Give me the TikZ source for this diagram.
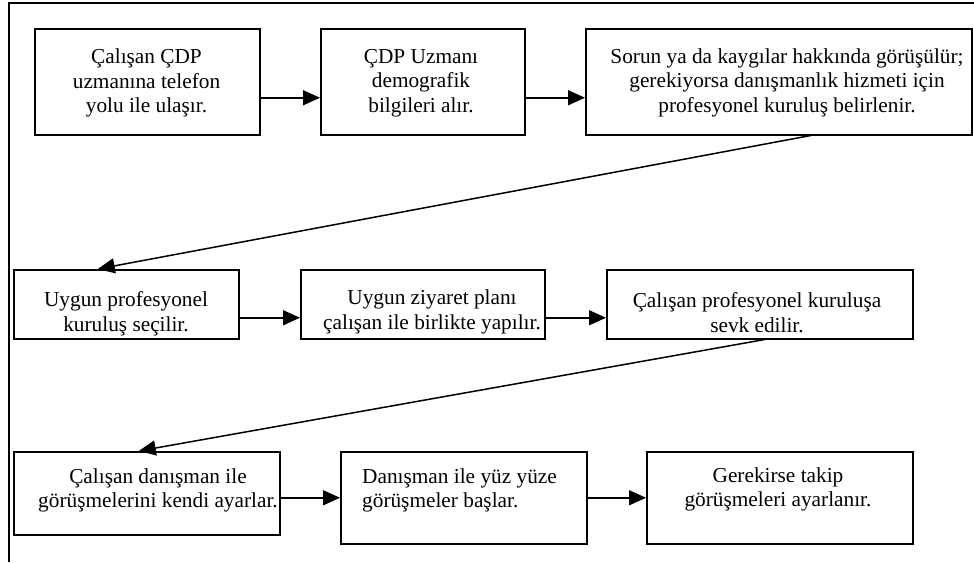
\documentclass[tikz,border=0pt]{standalone}
\usepackage{fontspec}
\setmainfont{Liberation Serif}
\newfontfamily\tnr{Liberation Serif}
\usetikzlibrary{arrows.meta}
\tikzset{
  box/.style={draw, line width=1.5pt, inner sep=0pt, anchor=north west},
  txt/.style={inner sep=0pt, anchor=north, align=center, font=\tnr\fontsize{21.3}{24.5}\selectfont},
  txtl/.style={txt, anchor=north west, align=left},
  arr/.style={line width=1.5pt, -{Triangle[length=17pt,width=15pt]}},
  frame/.style={line width=2pt}
}
\begin{document}
\begin{tikzpicture}[x=1pt,y=-1pt]
\useasboundingbox (0,0) rectangle (974,562);
% frame
\coordinate (fb) at (8.5,562);
\coordinate (fc) at (8.5,3.3);
\coordinate (fr) at (974,3.3);
\draw[frame] (fb) -- (fc) -- (fr);
% boxes
\node[box, minimum width=225pt, minimum height=106pt] (b1) at (34,28) {};
\node[box, minimum width=204pt, minimum height=106pt] (b2) at (320,28) {};
\node[box, minimum width=386pt, minimum height=106pt] (b3) at (585,28) {};
\node[box, minimum width=225pt, minimum height=69pt] (b4) at (13,269) {};
\node[box, minimum width=244pt, minimum height=69pt] (b5) at (300,269) {};
\node[box, minimum width=306pt, minimum height=69pt] (b6) at (606,269) {};
\node[box, minimum width=266pt, minimum height=83pt] (b7) at (13,451) {};
\node[box, minimum width=246pt, minimum height=92pt] (b8) at (340,451) {};
\node[box, minimum width=266pt, minimum height=92pt] (b9) at (646,451) {};
% texts (top = first baseline - 17.15)
\node[txt] (t1) at (146.5,46.4) {\strut Çalışan ÇDP\\uzmanına telefon\\yolu ile ulaşır.};
\node[txt] (t2) at (421,45.9) {\strut ÇDP Uzmanı\\demografik\\bilgileri alır.};
\node[txt] (t3) at (787,45.9) {\strut Sorun ya da kaygılar hakkında görüşülür;\\gerekiyorsa danışmanlık hizmeti için\\profesyonel kuruluş belirlenir.};
\node[txt] (t4) at (126,289.4) {\strut Uygun profesyonel\\kuruluş seçilir.};
\node[txt] (t5) at (432,287.4) {\strut Uygun ziyaret planı\\çalışan ile birlikte yapılır.};
\node[txt] (t6) at (757,290.4) {\strut Çalışan profesyonel kuruluşa\\sevk edilir.};
\node[txt] (t7) at (158,465.9) {\strut Çalışan danışman ile\\görüşmelerini kendi ayarlar.};
\node[txtl] (t8) at (362,465.9) {\strut Danışman ile yüz yüze\\görüşmeler başlar.};
\node[txt] (t9) at (778,464.9) {\strut Gerekirse takip\\görüşmeleri ayarlanır.};
% connectors
\draw[arr] ([yshift=-16pt]b1.east) -- ([yshift=-16pt]b2.west);
\draw[arr] ([yshift=-16pt]b2.east) -- ([yshift=-16pt]b3.west);
\draw[arr] ([xshift=32pt]b3.south) -- ([xshift=-28.5pt]b4.north);
\draw[arr] ([yshift=-13.5pt]b4.east) -- ([yshift=-13.5pt]b5.west);
\draw[arr] ([yshift=-13.5pt]b5.east) -- ([yshift=-13.5pt]b6.west);
\draw[arr] ([xshift=5pt]b6.south) -- ([xshift=-8pt]b7.north);
\draw[arr] (b7.east |- b8.west) -- (b8.west);
\draw[arr] (b8.east) -- (b9.west);
\end{tikzpicture}
\end{document}
